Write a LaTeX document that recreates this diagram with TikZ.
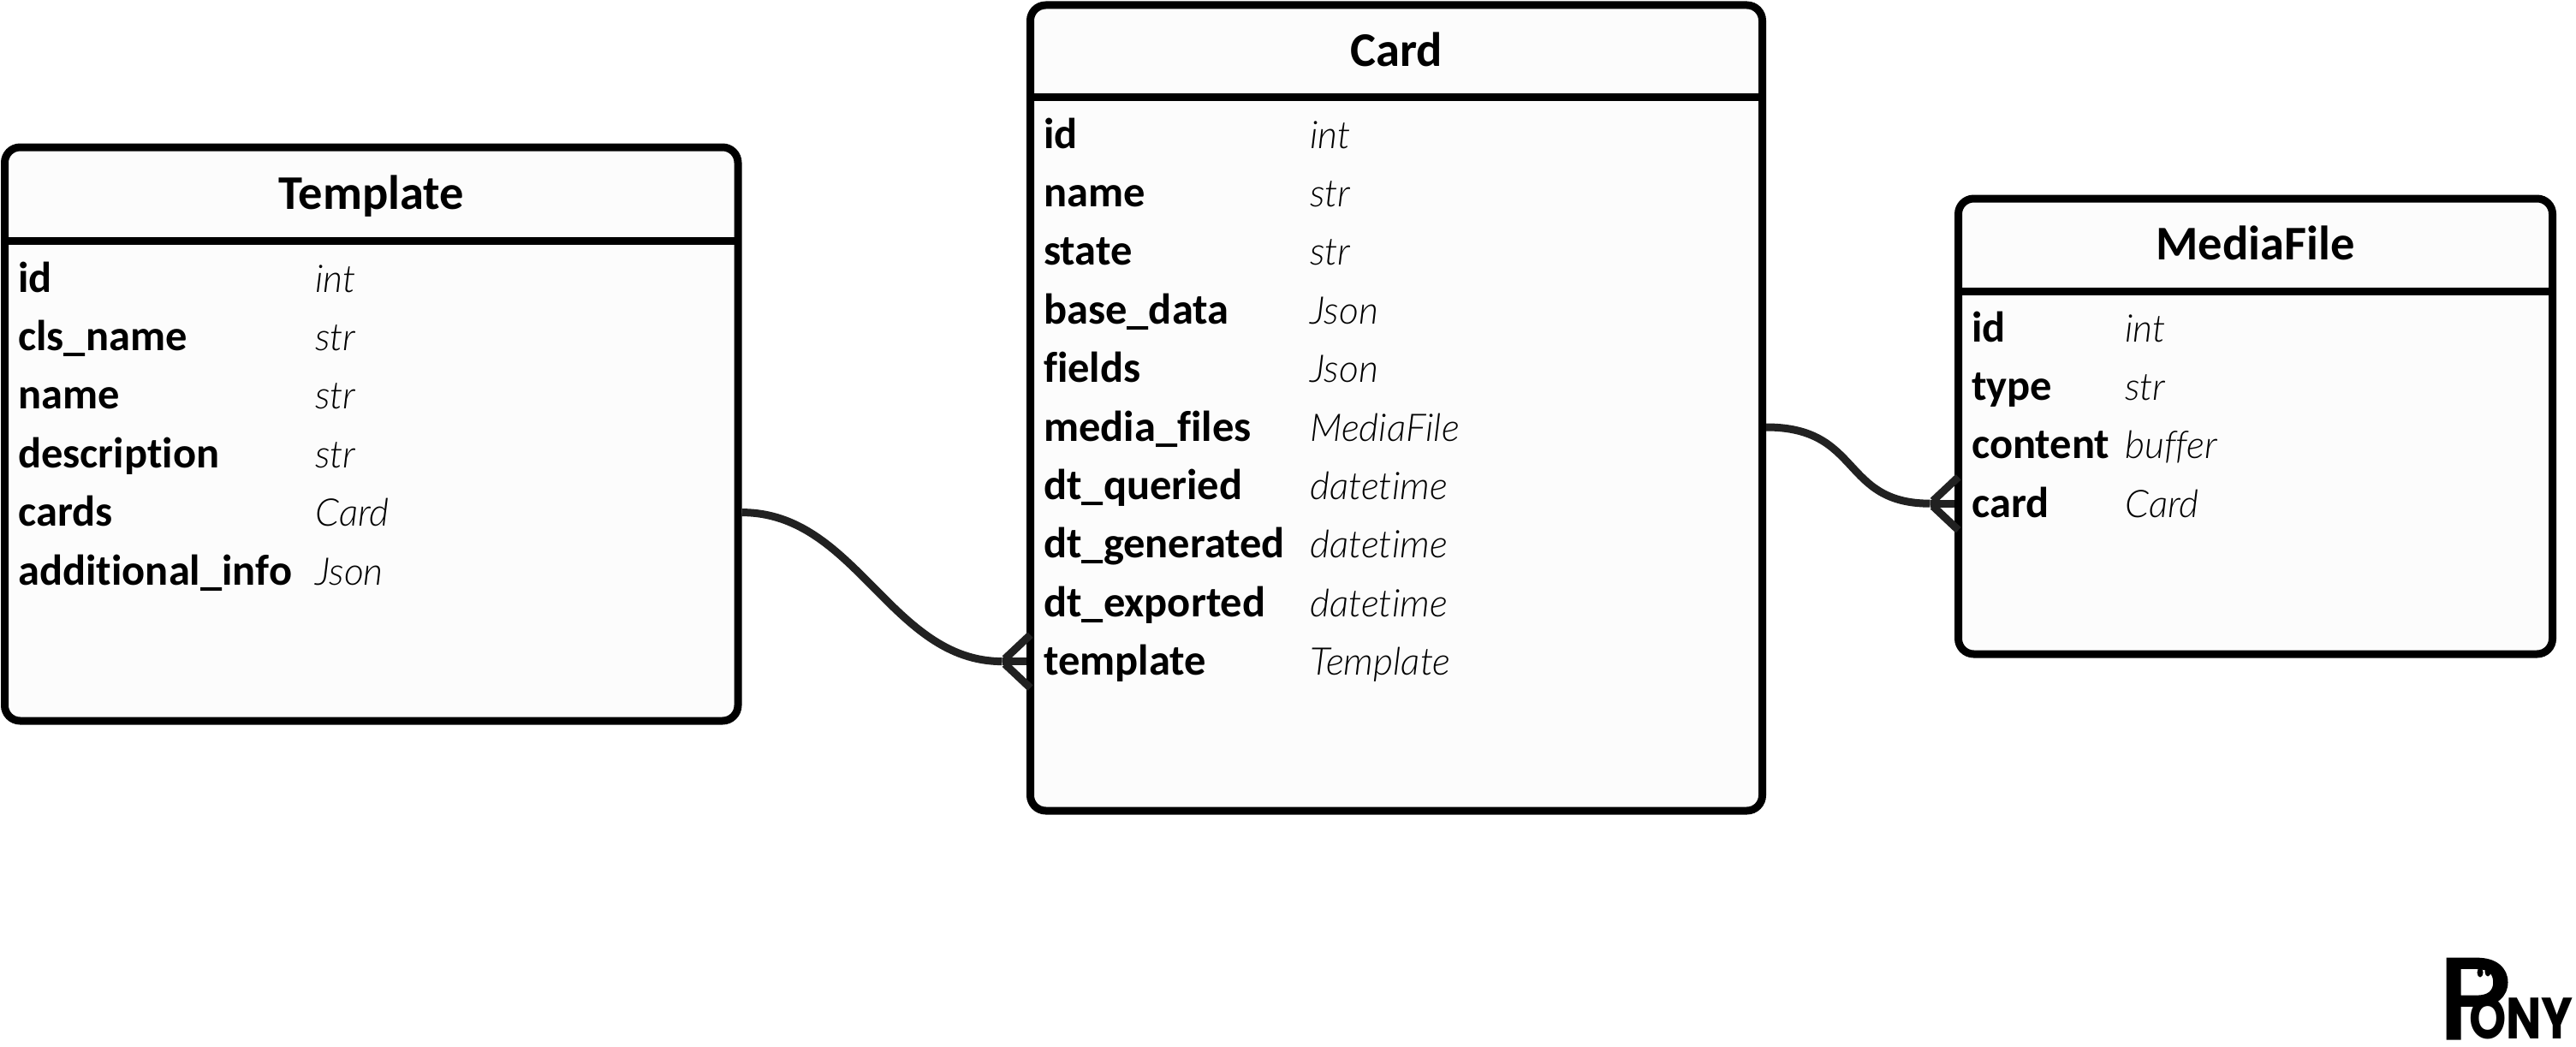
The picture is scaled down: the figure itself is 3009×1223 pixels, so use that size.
\documentclass[tikz,border=0pt]{standalone}
\usepackage{fontspec}
\setmainfont[Ligatures=CommonOff]{Carlito}
\newfontfamily\typefont[Ligatures=CommonOff]{Lato Light}
\newfontfamily\logofont{Poppins}
\newfontfamily\logoinitial[FakeBold=2.5]{Poppins}
\usetikzlibrary{calc,positioning,shapes.geometric}

\tikzset{
	tablebox/.style={draw=black,fill=black!1,line width=9pt,rounded corners=18pt,outer sep=0pt,inner sep=0pt},
	tabletitle/.style={anchor=north,inner sep=0pt,text height=35pt,text depth=0pt,font=\fontsize{56.5}{56.5}\selectfont\bfseries},
	tablerule/.style={line width=9pt},
	fieldname/.style={inner sep=0pt,anchor=west,minimum height=68pt,text height=39pt,text depth=7pt,font=\fontsize{50.5}{50.5}\selectfont\bfseries},
	fieldtype/.style={inner sep=0pt,anchor=west,minimum height=68pt,text height=39pt,text depth=7pt,font=\fontsize{44.5}{44.5}\typefont\itshape},
	relation/.style={draw=black!87,line width=9pt},
	logotext/.style={inner sep=0pt,anchor=base west,transform shape},
	logoeye/.style={fill=black,ellipse,minimum width=7pt,minimum height=11pt,inner sep=0pt}
}

\begin{document}
\begin{tikzpicture}[x=1pt,y=-1pt,node distance=0pt]
	\useasboundingbox (0,0) rectangle (3009,1223);

	% template table
	\node[tablebox,minimum width=856.5pt,minimum height=670pt,anchor=north west] (template) at (5.5,172) {};
	\node[tabletitle,minimum width=856.5pt,minimum height=109pt] (ttitle) at (template.north) {Template};
	\draw[tablerule] (ttitle.south west) to (ttitle.south east);
	\node[fieldname] (tid) at (21,325) {id};
	\node[fieldname,below=of tid.south west,anchor=north west] (tcls) {cls\_name};
	\node[fieldname,below=of tcls.south west,anchor=north west] (tname) {name};
	\node[fieldname,below=of tname.south west,anchor=north west] (tdesc) {description};
	\node[fieldname,below=of tdesc.south west,anchor=north west] (tcards) {cards};
	\node[fieldname,below=of tcards.south west,anchor=north west] (tinfo) {additional\_info};
	\node[fieldtype,right=347pt of tid.west] {int};
	\node[fieldtype,right=347pt of tcls.west] {str};
	\node[fieldtype,right=347pt of tname.west] {str};
	\node[fieldtype,right=347pt of tdesc.west] {str};
	\node[fieldtype,right=347pt of tcards.west] {Card};
	\node[fieldtype,right=347pt of tinfo.west] {Json};

	% card table
	\node[tablebox,minimum width=855pt,minimum height=941pt,anchor=north west] (card) at (1203.5,6) {};
	\node[tabletitle,minimum width=855pt,minimum height=107pt] (ctitle) at (card.north) {Card};
	\draw[tablerule] (ctitle.south west) to (ctitle.south east);
	\node[fieldname] (cid) at (1219,157) {id};
	\node[fieldname,below=of cid.south west,anchor=north west] (cname) {name};
	\node[fieldname,below=of cname.south west,anchor=north west] (cstate) {state};
	\node[fieldname,below=of cstate.south west,anchor=north west] (cbase) {base\_data};
	\node[fieldname,below=of cbase.south west,anchor=north west] (cfields) {fields};
	\node[fieldname,below=of cfields.south west,anchor=north west] (cmedia) {media\_files};
	\node[fieldname,below=of cmedia.south west,anchor=north west] (cqueried) {dt\_queried};
	\node[fieldname,below=of cqueried.south west,anchor=north west] (cgenerated) {dt\_generated};
	\node[fieldname,below=of cgenerated.south west,anchor=north west] (cexported) {dt\_exported};
	\node[fieldname,below=of cexported.south west,anchor=north west] (ctemplate) {template};
	\node[fieldtype,right=311pt of cid.west] {int};
	\node[fieldtype,right=311pt of cname.west] {str};
	\node[fieldtype,right=311pt of cstate.west] {str};
	\node[fieldtype,right=311pt of cbase.west] {Json};
	\node[fieldtype,right=311pt of cfields.west] {Json};
	\node[fieldtype,right=311pt of cmedia.west] {MediaFile};
	\node[fieldtype,right=311pt of cqueried.west] {datetime};
	\node[fieldtype,right=311pt of cgenerated.west] {datetime};
	\node[fieldtype,right=311pt of cexported.west] {datetime};
	\node[fieldtype,right=311pt of ctemplate.west] {Template};

	% media file table
	\node[tablebox,minimum width=694pt,minimum height=532pt,anchor=north west] (media) at (2287.5,232) {};
	\node[tabletitle,minimum width=694pt,minimum height=108pt] (mtitle) at (media.north) {MediaFile};
	\draw[tablerule] (mtitle.south west) to (mtitle.south east);
	\node[fieldname] (mid) at (2303,383) {id};
	\node[fieldname,below=of mid.south west,anchor=north west] (mtype) {type};
	\node[fieldname,below=of mtype.south west,anchor=north west] (mcontent) {content};
	\node[fieldname,below=of mcontent.south west,anchor=north west] (mcard) {card};
	\node[fieldtype,right=179pt of mid.west] {int};
	\node[fieldtype,right=179pt of mtype.west] {str};
	\node[fieldtype,right=179pt of mcontent.west] {buffer};
	\node[fieldtype,right=179pt of mcard.west] {Card};

	% relations
	\coordinate (cfoot) at (card.west |- ctemplate);
	\coordinate (cfork) at ($(cfoot)+(-33pt,0)$);
	\draw[relation,shorten <=4.5pt] (template.east |- tcards) .. controls +(138pt,0) and +(-130pt,0) .. (cfork);
	\draw[relation,shorten >=4.5pt] ($(cfoot)+(0,31pt)$) to (cfork);
	\draw[relation,shorten >=4.5pt] ($(cfoot)+(0,-31pt)$) to (cfork);
	\draw[relation,shorten >=4.5pt] (cfork) to (cfoot);

	\coordinate (mfoot) at (media.west |- mcard);
	\coordinate (mfork) at ($(mfoot)+(-33pt,0)$);
	\draw[relation,shorten <=4.5pt] (card.east |- cmedia) .. controls +(117pt,0) and +(-105pt,0) .. (mfork);
	\draw[relation,shorten >=4.5pt] ($(mfoot)+(0,31pt)$) to (mfork);
	\draw[relation,shorten >=4.5pt] ($(mfoot)+(0,-31pt)$) to (mfork);
	\draw[relation,shorten >=4.5pt] (mfork) to (mfoot);

	% logo
	\node[logotext,xscale=1.1,font=\fontsize{133}{133}\logoinitial] (logop) at (2848,1213) {P};
	\node[logotext,xscale=.81,font=\fontsize{68}{68}\logofont\bfseries] (logorest) at (2884,1213) {ONY};
	\node[logoeye] (eyeleft) at (2897,1136) {};
	\node[logoeye] (eyeright) at (2906,1135) {};
\end{tikzpicture}
\end{document}
